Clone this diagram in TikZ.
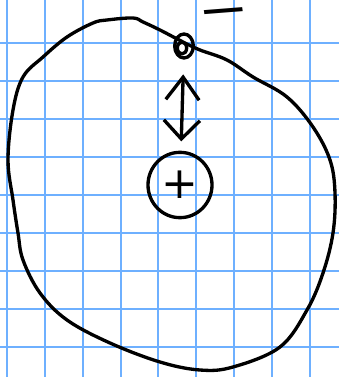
\documentclass[tikz,border=0pt]{standalone}
\usepackage{fontspec}
\newfontfamily\signfont{DejaVu Sans}
\usepackage{tikz}
\usetikzlibrary{arrows.meta,shapes.geometric}
\definecolor{paperblue}{RGB}{110,176,255}
\tikzset{
  atomgrid/.style={draw=paperblue, line width=1.5pt},
  atomline/.style={draw=black, line width=2.5pt, line cap=round, line join=round},
  atomcore/.style={atomline, ellipse, minimum width=48pt, minimum height=49pt, inner sep=0pt, font=\signfont\fontsize{33}{33}\selectfont},
  atomdot/.style={atomline, ellipse, minimum width=14pt, minimum height=18pt, inner sep=0pt},
  atomsign/.style={font=\signfont\bfseries\fontsize{24}{24}\selectfont, inner sep=0pt, text height=0.4em, text depth=0pt},
  atomarrow/.style={atomline, {Straight Barb[length=17pt, width=25pt]}-{Straight Barb[length=14pt, width=27pt]}, shorten <=11pt, shorten >=7pt}
}
\begin{document}
\begin{tikzpicture}[x=0.75pt, y=-0.75pt]
\useasboundingbox (0,0) rectangle (339,377);
\fill[white] (0,0) rectangle (339,377);
\foreach \gx in {7,45,83,121,158,196,234,272,310}
  \draw[atomgrid] (\gx,0) -- (\gx,377);
\foreach \gy in {43,81,119,157,195,233,271,309,347}
  \draw[atomgrid] (0,\gy) -- (339,\gy);

% orbit
\draw[atomline] plot[smooth cycle, tension=0.6] coordinates {
  (107,20) (133,18) (143,22) (160,30) (183,42) (200,50) (227,60) (253,77)
  (287,97) (313,127) (330,160) (335,193) (333,233) (323,273) (307,310)
  (280,347) (233,367) (200,370) (160,362) (110,343) (67,320) (40,293)
  (23,260) (18,233) (13,200) (8,160) (13,110) (23,77) (43,57) (67,37) (93,23)};

\node[atomdot] (electron) at (184,46) {};
\draw[atomline] ([xshift=-1.5pt, yshift=-1.5pt]electron.center) ellipse (3.5pt and 4.5pt);
\node[atomsign, anchor=base, xscale=1.35, rotate=6] (charge) at (225,20) {—};
\node[atomcore] (nucleus) at (180,185) {+};

\draw[atomarrow] (electron) -- (nucleus);
\end{tikzpicture}
\end{document}
